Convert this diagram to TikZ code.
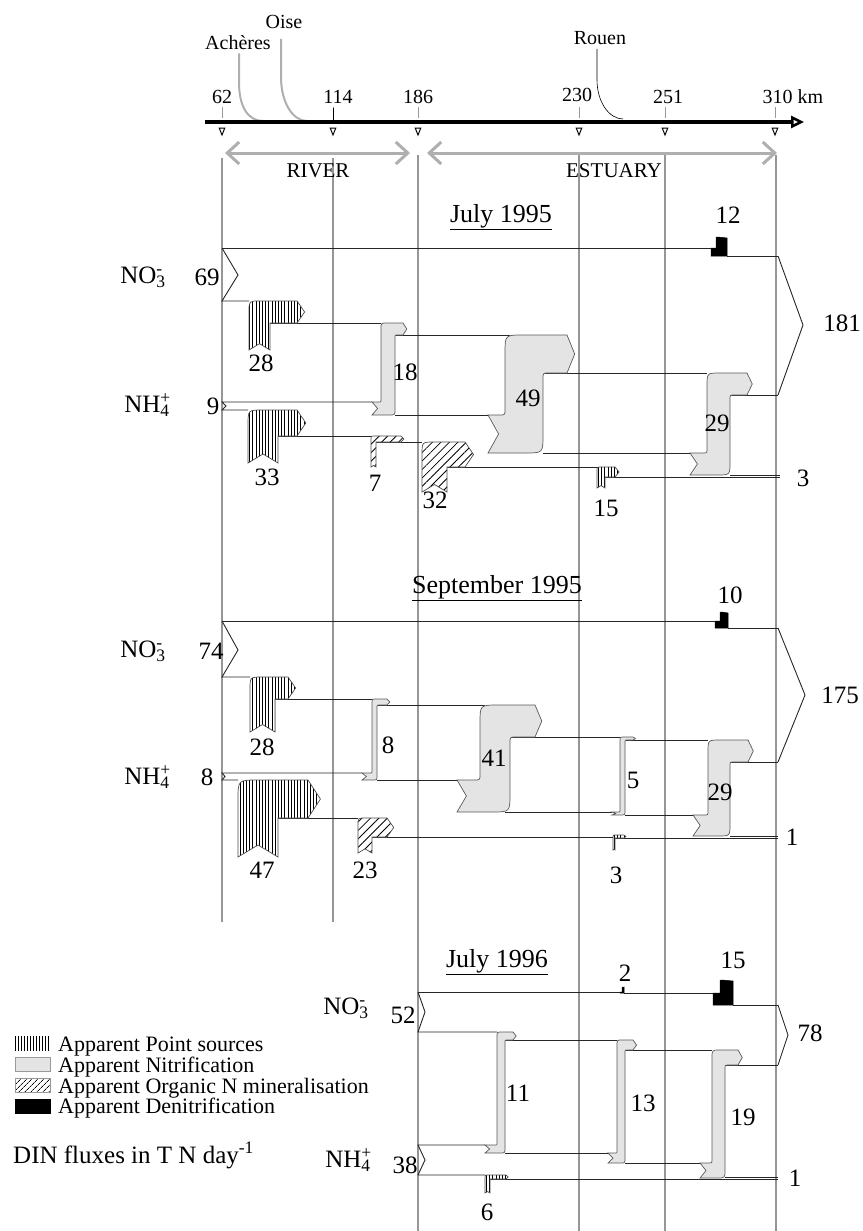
\documentclass[tikz,border=0pt]{standalone}
\usepackage{fontspec}
\setmainfont{Liberation Serif}
\usetikzlibrary{arrows.meta,patterns.meta}

\definecolor{guide}{RGB}{150,150,150}
\definecolor{nitgray}{RGB}{228,228,228}
\definecolor{reachgray}{RGB}{175,175,175}

\newcommand{\chem}[3]{#1\rlap{\textsuperscript{#3}}\textsubscript{#2}}
% #1 tail x, #2 bar left, #3 bar right, #4 arm end, #5 arm top, #6 arm bottom, #7 tail top, #8 tail bottom, #9 radius
\newcommand{\nitri}[9]{%
	\draw[nitrif] (#1,#7) -- ({#2-#9/3},#7) .. controls (#2,#7) .. (#2,{#7-#9/3}) -- (#2,{#5+#9}) .. controls (#2,#5) .. ({#2+#9},#5) -- (#4,#5) -- ({#4+2+0.15*(#6-#5)},{(#5+#6)/2}) -- (#4,#6) -- ({#3+#9/3},#6) .. controls (#3,#6) .. (#3,{#6+#9/3}) -- (#3,{#8-#9}) .. controls (#3,#8) .. ({#3-#9},#8) -- (#1,#8) -- ({#1+3+0.2*(#8-#7)},{(#7+#8)/2}) -- cycle;}
% #1 style, #2 left, #3 right, #4 arm end, #5 arm top, #6 arm bottom, #7 foot
\newcommand{\psource}[7]{%
	\draw[#1] (#2,#7) -- (#2,{#5+(#3-#2)/2}) .. controls (#2,#5) .. ({#2+(#3-#2)/2},#5) -- (#4,#5) -- ({#4+1+0.3*(#6-#5)},{(#5+#6)/2}) -- (#4,#6) -- (#3,#6) -- (#3,#7) -- ({(#2+#3)/2},{#7-0.3*(#3-#2)}) -- (#2,#7) -- cycle;}
% #1 tail x, #2 bend x, #3 right, #4 top, #5 band top, #6 band bottom
\newcommand{\denit}[6]{%
	\draw[denitrif] (#1,#5) -- (#2,#5) -- (#2,{#4+2}) .. controls (#2,#4) .. ({#2+2},#4) -- (#3,{#4+1}) -- (#3,#6) -- (#1,#6) -- cycle;}

\begin{document}
\begin{tikzpicture}[x=1pt,y=-1pt,
	guide/.style={draw=guide, line width=2.5pt},
	band/.style={draw=black!85, line width=0.9pt},
	nitrif/.style={draw=black!65, fill=nitgray, line width=0.7pt},
	ptsrc/.style={draw=black!70, line width=0.7pt, preaction={fill=white}, pattern={Lines[angle=90,distance=3.2pt,line width=0.9pt]}},
	mineral/.style={draw=black!70, line width=0.7pt, preaction={fill=white}, pattern={Lines[angle=45,distance=6pt,line width=0.8pt]}},
	denitrif/.style={fill=black, draw=black, line width=0.5pt},
	num/.style={font=\fontsize{25}{28}\selectfont, inner sep=0pt},
	yeartitle/.style={font=\fontsize{26}{28}\selectfont, inner sep=0pt},
	kmlbl/.style={font=\fontsize{20}{22}\selectfont, inner sep=0pt},
	reachlbl/.style={font=\fontsize{21}{24}\selectfont, inner sep=0pt},
	legtext/.style={font=\fontsize{22}{24}\selectfont, inner sep=0pt, anchor=base west},
	reach/.style={draw=reachgray, line width=3pt, {Straight Barb[length=12pt,width=22pt]}-{Straight Barb[length=12pt,width=22pt]}},
	tributary/.style={draw=reachgray, line width=2pt},
	kmtick/.style={draw=black!40, line width=0.8pt},
	kmmark/.style={draw=black, fill=white, line width=1pt}]
	\useasboundingbox (0,0) rectangle (862,1231);

	% axis
	\foreach \g in {222,333} \draw[guide] (\g,158) -- (\g,922);
	\foreach \g in {418,579,665,776} \draw[guide] (\g,155) -- (\g,1231);

	\node[kmlbl] at (238,43) (acheres) {Achères};
	\node[kmlbl] at (284,22) (oise) {Oise};
	\node[kmlbl] at (600,38) (rouen) {Rouen};
	\coordinate (acheres-in) at (263,121);
	\coordinate (oise-in) at (307,121);
	\coordinate (rouen-in) at (623,119);
	\draw[tributary] ([xshift=1pt,yshift=-3pt]acheres.south) -- ++(0,29) .. controls +(0,26) and +(-14,0) .. (acheres-in);
	\draw[tributary] ([xshift=-3pt,yshift=-10pt]oise.south) -- ++(0,38) .. controls +(0,26) and +(-14,0) .. (oise-in);
	\draw[black, line width=0.6pt] ([xshift=-3pt,yshift=-4pt]rouen.south) -- ++(0,31) .. controls +(0,22) and +(-14,0) .. (rouen-in);

	\coordinate (axis-w) at (205,122);
	\coordinate (axis-e) at (804,122);
	\draw[black, line width=4pt, -{Triangle[open,length=13pt,width=12pt,line width=2.5pt]}] (axis-w) -- (axis-e);
	\foreach \k in {222,333,418,579,665,775} {
		\draw[kmtick] (\k,107) -- (\k,118);
		\draw[kmmark] ({\k-2.8},128) -- ({\k+2.8},128) -- (\k,135) -- cycle;
	}
	\draw[black, line width=1pt] (333,108) -- (333,124);
	\node[kmlbl] at (222,97) (km62) {62};
	\node[kmlbl] at (338,97) (km114) {114};
	\node[kmlbl] at (418,97) (km186) {186};
	\node[kmlbl] at (577,95) (km230) {230};
	\node[kmlbl] at (668,97) (km251) {251};
	\node[kmlbl] at (793,97) (km310) {310 km};

	\coordinate (river-w) at (225,153);
	\coordinate (river-e) at (410,153);
	\coordinate (estuary-w) at (427,153);
	\coordinate (estuary-e) at (777,153);
	\draw[reach] (river-w) -- (river-e);
	\draw[reach] (estuary-w) -- (estuary-e);
	\node[reachlbl] at (318,171) (river) {RIVER};
	\node[reachlbl] at (614,171) (estuary) {ESTUARY};

	% July 1995
	\node[yeartitle] at (501,217) (jul95) {\underline{July 1995}};
	\draw[band] (222,248) -- (711,248);
	\draw[band] (727,256) -- (778,256);
	\draw[band] (222,248) -- (238,275) -- (222,301) -- (249,301);
	\draw[band] (270,323) -- (381,323);
	\draw[band] (395,335) -- (510,335);
	\draw[band] (543,373) -- (707,373);
	\draw[band] (730,395) -- (778,395);
	\draw[band] (778,256) -- (803,325) -- (778,395);
	\draw[band] (372,402) -- (222,402) -- (226,406) -- (222,410) -- (248,410);
	\draw[band] (278,436) -- (371,436);
	\draw[band] (376,442) -- (422,442);
	\draw[band] (395,415) -- (488,415);
	\draw[band] (447,467) -- (597,467);
	\draw[band] (543,453) -- (690,453);
	\draw[band] (604,477) -- (780,477);
	\draw[band] (730,475) -- (780,475);
	\psource{ptsrc}{249}{270}{297}{301}{323}{350}
	\psource{ptsrc}{248}{278}{297}{410}{436}{463}
	\psource{mineral}{371}{376}{401}{436}{442}{467}
	\psource{mineral}{422}{447}{465}{442}{467}{492}
	\psource{ptsrc}{597}{605}{615}{467}{477}{488}
	\nitri{372}{381}{395}{403}{323}{335}{402}{415}{6}
	\nitri{488}{505}{543}{567}{335}{373}{415}{453}{18}
	\nitri{690}{707}{730}{747}{373}{395}{453}{475}{13}
	\denit{711}{716}{727}{237}{248}{256}
	\node[num] at (143,277) (no3-jul95) {\chem{NO}{3}{-}};
	\node[num] at (207,277) (in-no3-jul95) {69};
	\node[num] at (147,405) (nh4-jul95) {\chem{NH}{4}{+}};
	\node[num] at (213,406) (in-nh4-jul95) {9};
	\node[num] at (261,363) (ps28-jul95) {28};
	\node[num] at (405,372) (ni18-jul95) {18};
	\node[num] at (528,398) (ni49-jul95) {49};
	\node[num] at (717,423) (ni29-jul95) {29};
	\node[num] at (267,477) (ps33-jul95) {33};
	\node[num] at (375,483) (mi7-jul95) {7};
	\node[num] at (435,500) (mi32-jul95) {32};
	\node[num] at (606,508) (ps15-jul95) {15};
	\node[num] at (728,215) (de12-jul95) {12};
	\node[num] at (842,323) (out-no3-jul95) {181};
	\node[num] at (803,478) (out-nh4-jul95) {3};

	% September 1995
	\node[yeartitle] at (497,588) (sep95) {\underline{September 1995}};
	\draw[band] (222,621) -- (715,621);
	\draw[band] (728,628) -- (778,628);
	\draw[band] (222,621) -- (238,650) -- (222,677) -- (250,677);
	\draw[band] (275,699) -- (372,699);
	\draw[band] (377,705) -- (485,705);
	\draw[band] (510,737) -- (620,737);
	\draw[band] (625,740) -- (708,740);
	\draw[band] (730,762) -- (778,762);
	\draw[band] (778,628) -- (805,695) -- (778,762);
	\draw[band] (362,773) -- (222,773) -- (225,776.5) -- (222,780) -- (238,780);
	\draw[band] (278,818) -- (358,818);
	\draw[band] (377,780) -- (457,780);
	\draw[band] (372,837) -- (613,837);
	\draw[band] (505,812) -- (612,812);
	\draw[band] (625,815) -- (693,815);
	\draw[band] (615,838) -- (778,838);
	\draw[band] (730,836) -- (778,836);
	\psource{ptsrc}{250}{275}{288}{677}{699}{732}
	\psource{ptsrc}{238}{278}{308}{780}{818}{857}
	\psource{mineral}{358}{372}{387}{818}{837}{853}
	\psource{ptsrc}{613}{615}{624}{835}{838}{850}
	\nitri{362}{372}{377}{387}{699}{705}{773}{780}{3}
	\nitri{457}{480}{510}{535}{705}{737}{780}{812}{18}
	\nitri{612}{620}{625}{633}{737}{740}{812}{815}{3}
	\nitri{693}{708}{730}{748}{740}{762}{815}{836}{12}
	\denit{715}{720}{728}{612}{621}{628}
	\node[num] at (143,651) (no3-sep95) {\chem{NO}{3}{-}};
	\node[num] at (211,651) (in-no3-sep95) {74};
	\node[num] at (147,777) (nh4-sep95) {\chem{NH}{4}{+}};
	\node[num] at (207,777) (in-nh4-sep95) {8};
	\node[num] at (262,747) (ps28-sep95) {28};
	\node[num] at (388,745) (ni8-sep95) {8};
	\node[num] at (494,758) (ni41-sep95) {41};
	\node[num] at (633,780) (ni5-sep95) {5};
	\node[num] at (720,792) (ni29-sep95) {29};
	\node[num] at (262,870) (ps47-sep95) {47};
	\node[num] at (365,870) (mi23-sep95) {23};
	\node[num] at (616,875) (ps3-sep95) {3};
	\node[num] at (730,595) (de10-sep95) {10};
	\node[num] at (840,695) (out-no3-sep95) {175};
	\node[num] at (792,837) (out-nh4-sep95) {1};

	% July 1996
	\node[yeartitle] at (497,962) (jul96) {\underline{July 1996}};
	\draw[band] (418,992) -- (620,992);
	\draw[band] (624,993) -- (713,993);
	\draw[band] (733,1005) -- (778,1005);
	\draw[band] (418,992) -- (425,1012) -- (418,1032) -- (497,1032);
	\draw[band] (505,1040) -- (617,1040);
	\draw[band] (625,1050) -- (712,1050);
	\draw[band] (725,1065) -- (778,1065);
	\draw[band] (778,1005) -- (788,1035) -- (778,1065);
	\draw[band] (485,1145) -- (418,1145) -- (425,1160) -- (418,1175) -- (485,1175);
	\draw[band] (505,1153) -- (608,1153);
	\draw[band] (625,1163) -- (700,1163);
	\draw[band] (490,1179) -- (778,1179);
	\draw[band] (725,1177) -- (778,1177);
	\psource{ptsrc}{485}{490}{506}{1175}{1179}{1193}
	\nitri{485}{497}{505}{513}{1032}{1040}{1145}{1153}{5}
	\nitri{608}{617}{625}{633}{1040}{1050}{1153}{1163}{5}
	\nitri{700}{712}{725}{738}{1050}{1065}{1163}{1178}{8}
	\denit{620}{622}{624}{987}{992}{993}
	\denit{713}{720}{733}{980}{993}{1005}
	\node[num] at (346,1008) (no3-jul96) {\chem{NO}{3}{-}};
	\node[num] at (403,1015) (in-no3-jul96) {52};
	\node[num] at (348,1160) (nh4-jul96) {\chem{NH}{4}{+}};
	\node[num] at (405,1165) (in-nh4-jul96) {38};
	\node[num] at (518,1093) (ni11-jul96) {11};
	\node[num] at (643,1103) (ni13-jul96) {13};
	\node[num] at (743,1117) (ni19-jul96) {19};
	\node[num] at (487,1212) (ps6-jul96) {6};
	\node[num] at (625,973) (de2-jul96) {2};
	\node[num] at (733,960) (de15-jul96) {15};
	\node[num] at (810,1033) (out-no3-jul96) {78};
	\node[num] at (795,1178) (out-nh4-jul96) {1};

	% legend
	\draw[draw=none, pattern={Lines[angle=90,distance=3pt,line width=0.9pt]}] (15,1036) rectangle (50,1050);
	\draw[draw=black!40, fill=nitgray] (15,1057) rectangle (50,1071);
	\draw[draw=black!40, pattern={Lines[angle=45,distance=4pt,line width=0.8pt]}] (15,1078) rectangle (50,1092);
	\draw[fill=black] (15,1099) rectangle (50,1113);
	\node[legtext] at (58,1051) (leg-ps) {Apparent Point sources};
	\node[legtext] at (58,1072) (leg-ni) {Apparent Nitrification};
	\node[legtext] at (58,1093) (leg-mi) {Apparent Organic N mineralisation};
	\node[legtext] at (58,1113) (leg-de) {Apparent Denitrification};
	\node[num, anchor=base west] at (13,1163) (units) {DIN fluxes in T N day\textsuperscript{-1}};
\end{tikzpicture}
\end{document}
